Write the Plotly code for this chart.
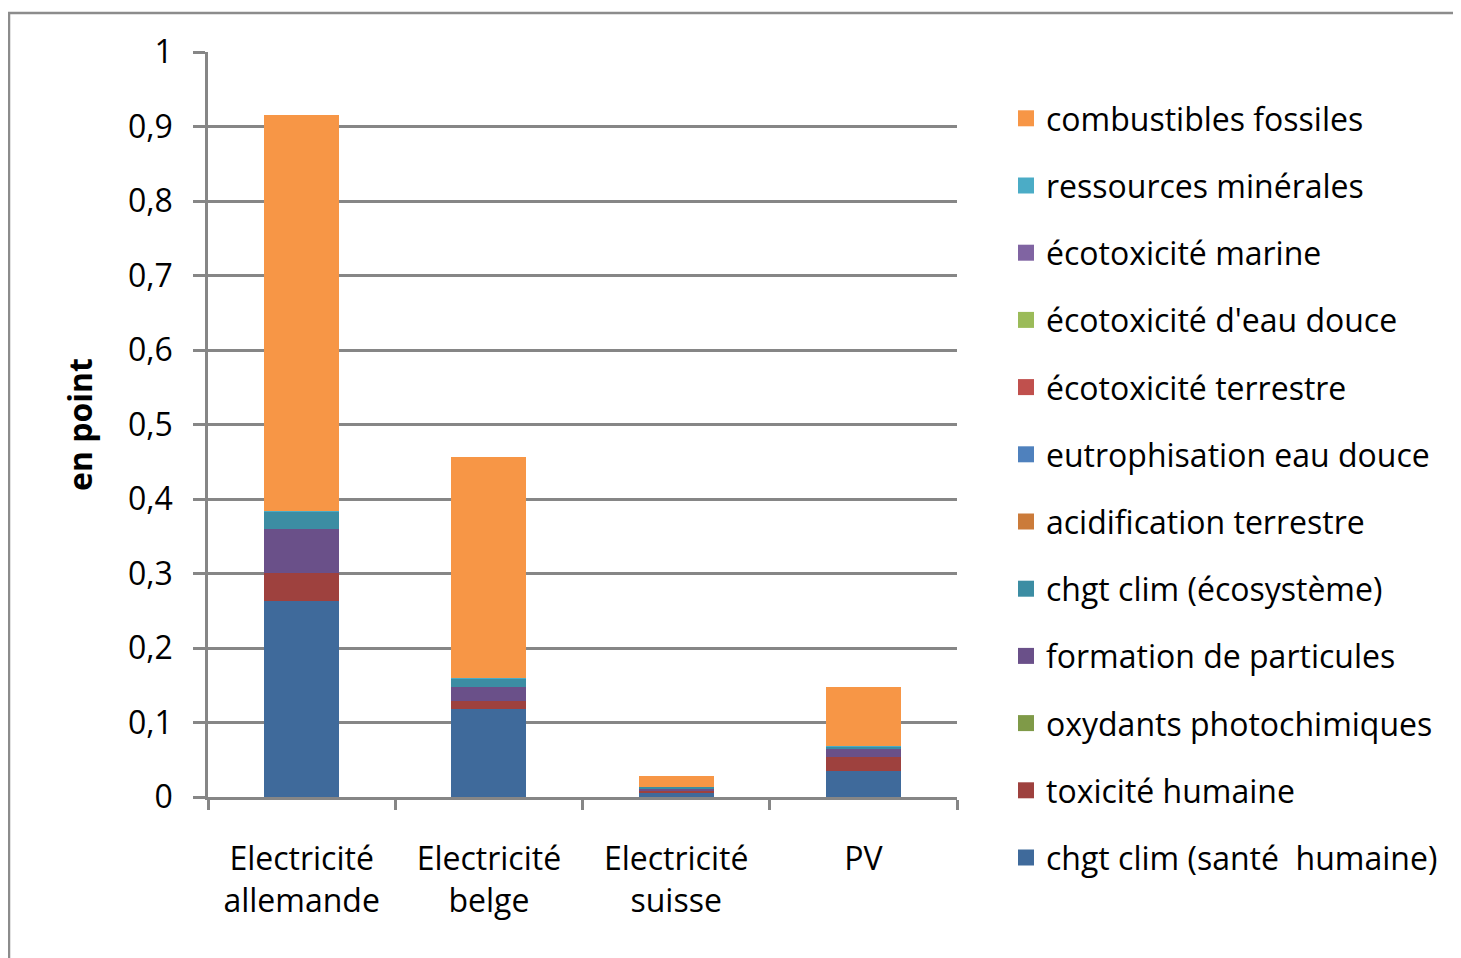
import plotly.graph_objects as go

categories = ["Electricité<br>allemande", "Electricité<br>belge", "Electricité<br>suisse", "PV"]

# series from bottom of stack to top
series_names = [
    "chgt clim (santé  humaine)",
    "toxicité humaine",
    "oxydants photochimiques",
    "formation de particules",
    "chgt clim (écosystème)",
    "acidification terrestre",
    "eutrophisation eau douce",
    "écotoxicité terrestre",
    "écotoxicité d'eau douce",
    "écotoxicité marine",
    "ressources minérales",
    "combustibles fossiles",
]

chgt_clim_sante = [0.263, 0.118, 0.005, 0.035]
toxicite_humaine = [0.038, 0.011, 0.003, 0.019]
oxydants_photochimiques = [0.0, 0.0, 0.0, 0.0]
formation_particules = [0.059, 0.018, 0.004, 0.010]
chgt_clim_ecosysteme = [0.023, 0.012, 0.001, 0.004]
acidification_terrestre = [0.0, 0.0, 0.0, 0.0]
eutrophisation_eau_douce = [0.0, 0.0, 0.0, 0.0]
ecotox_terrestre = [0.0, 0.0, 0.0, 0.0]
ecotox_eau_douce = [0.0, 0.0, 0.0, 0.0]
ecotox_marine = [0.0, 0.0, 0.0, 0.0]
ressources_minerales = [0.0005, 0.0005, 0.0, 0.001]
combustibles_fossiles = [0.532, 0.297, 0.015, 0.078]

series_values = [
    chgt_clim_sante, toxicite_humaine, oxydants_photochimiques, formation_particules,
    chgt_clim_ecosysteme, acidification_terrestre, eutrophisation_eau_douce,
    ecotox_terrestre, ecotox_eau_douce, ecotox_marine, ressources_minerales,
    combustibles_fossiles,
]

colors = [
    "#3F6A9B", "#9E413E", "#7F9A48", "#6A5089", "#3C8DA3", "#CB7B3A",
    "#4F81BD", "#C0504D", "#9BBB59", "#8064A2", "#4BACC6", "#F79646",
]

y_tick_vals = [0, 0.1, 0.2, 0.3, 0.4, 0.5, 0.6, 0.7, 0.8, 0.9, 1]
y_tick_text = ["0", "0,1", "0,2", "0,3", "0,4", "0,5", "0,6", "0,7", "0,8", "0,9", "1"]

FONT = "Open Sans"
FS = 32
OFF = 8  # page body margin

fig = go.Figure()
for i, (name, vals) in enumerate(zip(series_names, series_values)):
    fig.add_trace(go.Bar(
        x=categories, y=vals, name=name,
        marker=dict(color=colors[i], line=dict(width=0)),
        showlegend=False,
    ))
# legend entries (square swatches), top of stack listed first
for k, i in enumerate(reversed(range(len(series_names)))):
    fig.add_trace(go.Scatter(
        x=[None], y=[None], mode="markers", name=series_names[i],
        marker=dict(symbol="square", size=20, color=colors[i]),
        legendgroup="g%d" % k, hoverinfo="skip",
    ))

W, H = 1461, 958
# plot area in figure pixels
L, R, T, B = 208 - OFF, 957 - OFF, 52 - OFF, 797 - OFF
pw, ph = R - L, B - T

def px_x(x):
    return (x - OFF - L) / pw

def px_y(y):
    return (B - (y - OFF)) / ph

fig.update_layout(
    width=W, height=H,
    barmode="stack",
    bargap=0.6,
    paper_bgcolor="white",
    plot_bgcolor="white",
    font=dict(family=FONT, size=FS, color="black"),
    margin=dict(l=L, r=W - R, t=T, b=H - B, pad=0),
    legend=dict(
        traceorder="grouped",
        x=px_x(1006), y=px_y(91), xanchor="left", yanchor="top",
        font=dict(family=FONT, size=FS, color="black"),
        tracegroupgap=22.6,
        itemwidth=30,
        bgcolor="rgba(0,0,0,0)",
        itemsizing="trace",
        maxheight=940,
    ),
    xaxis=dict(
        showgrid=False,
        showline=True, linecolor="#868686", linewidth=2.5,
        ticks="outside", tickson="boundaries", ticklen=10, tickwidth=2.5, tickcolor="#868686",
        tickfont=dict(family=FONT, size=FS),
        ticklabelstandoff=32,
    ),
    yaxis=dict(
        range=[0, 1],
        tickvals=y_tick_vals, ticktext=y_tick_text,
        showgrid=True, gridcolor="#868686", gridwidth=2.5,
        showline=True, linecolor="#868686", linewidth=2.5,
        ticks="outside", ticklen=12, tickwidth=2.5, tickcolor="#868686",
        tickfont=dict(family=FONT, size=FS),
        ticklabelstandoff=14,
        zeroline=False,
        title=dict(text="<b>en point</b>", font=dict(family=FONT, size=FS), standoff=26),
    ),
    shapes=[
        dict(type="rect", xref="paper", yref="paper",
             x0=px_x(9), x1=px_x(1475), y0=px_y(13), y1=px_y(975),
             line=dict(color="#8C8C8C", width=2.5), fillcolor="rgba(0,0,0,0)", layer="below"),
    ],
)

fig.write_html("out.html")
